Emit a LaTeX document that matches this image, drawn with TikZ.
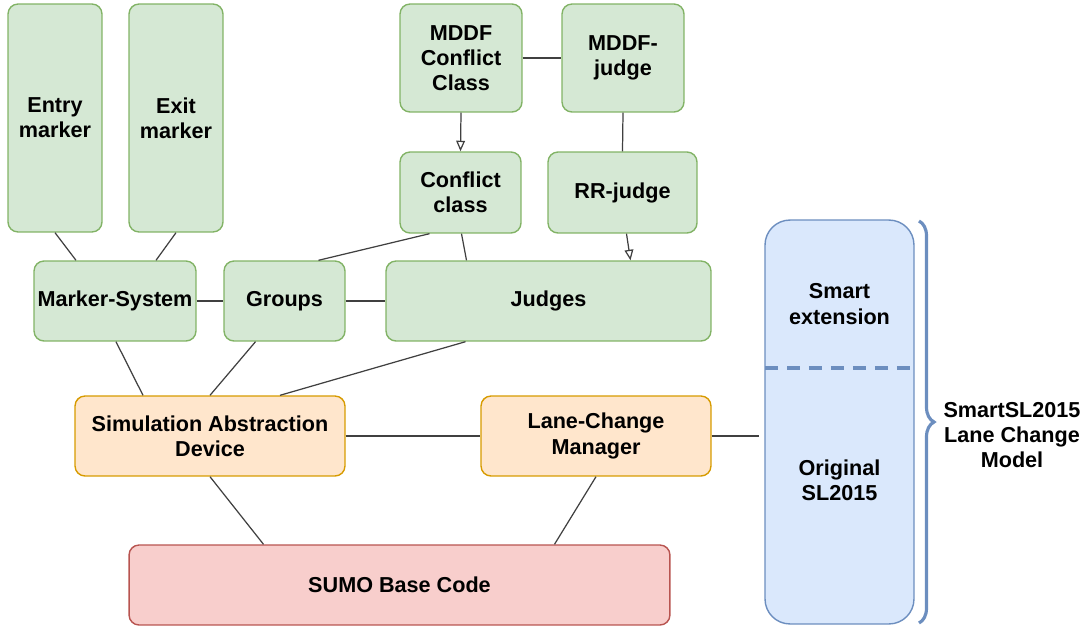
\documentclass[tikz,border=0pt]{standalone}
\usepackage{fontspec}
\setmainfont{Liberation Sans}
\usetikzlibrary{arrows.meta,positioning,calc,decorations.pathreplacing}
\definecolor{gfill}{HTML}{D5E8D4}
\definecolor{gline}{HTML}{82B366}
\definecolor{ofill}{HTML}{FFE6CC}
\definecolor{oline}{HTML}{D79B00}
\definecolor{rfill}{HTML}{F8CECC}
\definecolor{rline}{HTML}{B85450}
\definecolor{bfill}{HTML}{DAE8FC}
\definecolor{bline}{HTML}{6C8EBF}
\tikzset{
    box/.style={draw, rounded corners=0.2cm, line width=0.8pt, align=center, inner sep=0pt,
        font=\bfseries\fontsize{12.3}{14.4}\selectfont},
    gbox/.style={box, draw=gline, fill=gfill},
    obox/.style={box, draw=oline, fill=ofill},
    rbox/.style={box, draw=rline, fill=rfill},
    lbl/.style={align=center, inner sep=0pt, font=\bfseries\fontsize{12.3}{14.4}\selectfont},
    link/.style={draw=black!75, line width=0.7pt},
    arr/.style={link, -{Triangle[open, length=6pt, width=5pt]}},
}
\begin{document}
\begin{tikzpicture}[x=0.02cm, y=-0.02cm]
        \useasboundingbox (0,0) rectangle (1086,629);
        % upper row
        \node[gbox, minimum width=1.88cm, minimum height=4.56cm] (entry) at (55,118) {Entry\\marker};
        \node[gbox, minimum width=1.88cm, minimum height=4.56cm] (exit) at (176,118) {Exit\\marker};
        \node[gbox, minimum width=2.44cm, minimum height=2.16cm] (mddfcc) at (461,58) {MDDF\\Conflict\\Class};
        \node[gbox, minimum width=2.44cm, minimum height=2.16cm] (mddfj) at (623,58) {MDDF-\\judge};
        \node[gbox, minimum width=2.42cm, minimum height=1.62cm] (cc) at (460.5,192.5) {Conflict\\class};
        \node[gbox, minimum width=2.98cm, minimum height=1.62cm] (rrj) at (622.5,192.5) {RR-judge};
        % middle row
        \node[gbox, minimum width=3.24cm, minimum height=1.6cm] (ms) at (115,301) {Marker-System};
        \node[gbox, minimum width=2.42cm, minimum height=1.6cm] (groups) at (284.5,301) {Groups};
        \node[gbox, minimum width=6.5cm, minimum height=1.6cm] (judges) at (548.5,301) {Judges};
        \node[obox, minimum width=5.4cm, minimum height=1.6cm] (sad) at (210,436) {Simulation Abstraction\\Device};
        \node[obox, minimum width=4.6cm, minimum height=1.6cm] (lcm) at (596,436) {Lane-Change\\Manager};
        \node[rbox, minimum width=10.82cm, minimum height=1.6cm] (sumo) at (399.5,585) {SUMO Base Code};
        % lane change model
        \node[box, draw=bline, fill=bfill, rounded corners=0.5cm, minimum width=2.98cm, minimum height=8.08cm] (sl) at (839.5,422) {};
        \coordinate (split) at (765,368);
        \draw[bline, line width=2.2pt, dash pattern=on 0.26cm off 0.18cm] (split) -- (split -| sl.east);
        \node[lbl] (smart) at (839.5,304) {Smart\\extension};
        \node[lbl] (orig) at (839.5,480) {Original\\SL2015};
        \draw[bline, line width=1.8pt, decorate, decoration={brace, amplitude=0.3cm}] (919,221) -- (919,623);
        \node[lbl] (model) at (1012,435) {SmartSL2015\\Lane Change\\Model};
        % connectors
        \draw[link] (entry.south) -- ($(ms.north)+(-39,0)$);
        \draw[link] (exit.south) -- ($(ms.north)+(41,0)$);
        \draw[link] (ms.east) -- (groups.west);
        \draw[link] (groups.east) -- (judges.west);
        \draw[link] ($(cc.south)+(-31,0)$) -- ($(groups.north)+(34,0)$);
        \draw[link] ($(cc.south)+(1,0)$) -- ($(judges.north)+(-82,0)$);
        \draw[arr] (mddfcc.south) -- (cc.north);
        \draw[link] (mddfcc.east) -- (mddfj.west);
        \draw[link] (mddfj.south) -- (rrj.north);
        \draw[arr] ($(rrj.south)+(4,0)$) -- ($(judges.north)+(82,0)$);
        \draw[link] ($(ms.south)+(1,0)$) -- ($(sad.north)+(-67,0)$);
        \draw[link] ($(groups.south)+(-29,0)$) -- (sad.north);
        \draw[link] ($(judges.south)+(-83,0)$) -- ($(sad.north)+(70,0)$);
        \draw[link] (sad.east) -- (lcm.west);
        \draw[link, shorten >=0.1cm] (lcm.east) -- (lcm.east -| sl.west);
        \draw[link] (sad.south) -- ($(sumo.north)+(-136,0)$);
        \draw[link] (lcm.south) -- ($(sumo.north)+(155,0)$);
\end{tikzpicture}
\end{document}
